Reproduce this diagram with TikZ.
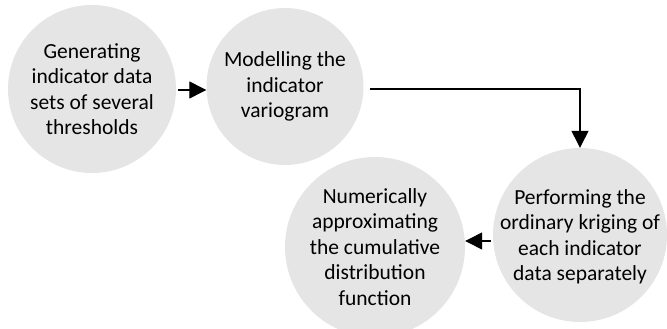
\documentclass[tikz,border=0pt]{standalone}
\usepackage{fontspec}
\setmainfont{Carlito}
\usetikzlibrary{arrows.meta}
\definecolor{bubblegray}{HTML}{E5E5E5}
\begin{document}
\begin{tikzpicture}[
    x=1pt, y=-1pt,
    bubble/.style={circle, fill=bubblegray, inner sep=0pt},
    lbl/.style={font=\fontsize{21.5}{25.5}\selectfont, align=center},
    flow/.style={black, line width=1.3pt,
      -{Triangle[length=17pt, width=17pt]}},
  ]
\useasboundingbox (0,0) rectangle (667,329);

% The four steps, read left to right along the top, then right to left below.
\node[bubble, minimum size=168pt] (gen) at (92,89) {};
\node[bubble, minimum size=157pt] (model) at (285,86.5) {};
\node[bubble, minimum size=174pt] (krig) at (580,235) {};
\node[bubble, minimum size=180pt] (approx) at (375,247) {};

\node[lbl] at (gen) {Generating\\indicator data\\sets of several\\thresholds};
\node[lbl] at (model) {Modelling the\\indicator\\variogram};
\node[lbl] at ([yshift=-2pt]krig) {Performing the\\ordinary kriging of\\each indicator\\data separately};
\node[lbl] at (approx) {Numerically\\approximating\\the cumulative\\distribution\\function};

% Connectors between the steps.
\draw[flow, shorten <=2pt] ([yshift=-1pt]gen.east) -- ([yshift=-1pt]gen.east -| model.west);
\draw[flow, shorten <=6pt] ([yshift=-2.5pt]model.east) -| (krig.north);
\draw[flow, shorten <=2pt] ([yshift=-6pt]krig.west) -- ([yshift=-6pt]krig.west -| approx.east);
\end{tikzpicture}
\end{document}
